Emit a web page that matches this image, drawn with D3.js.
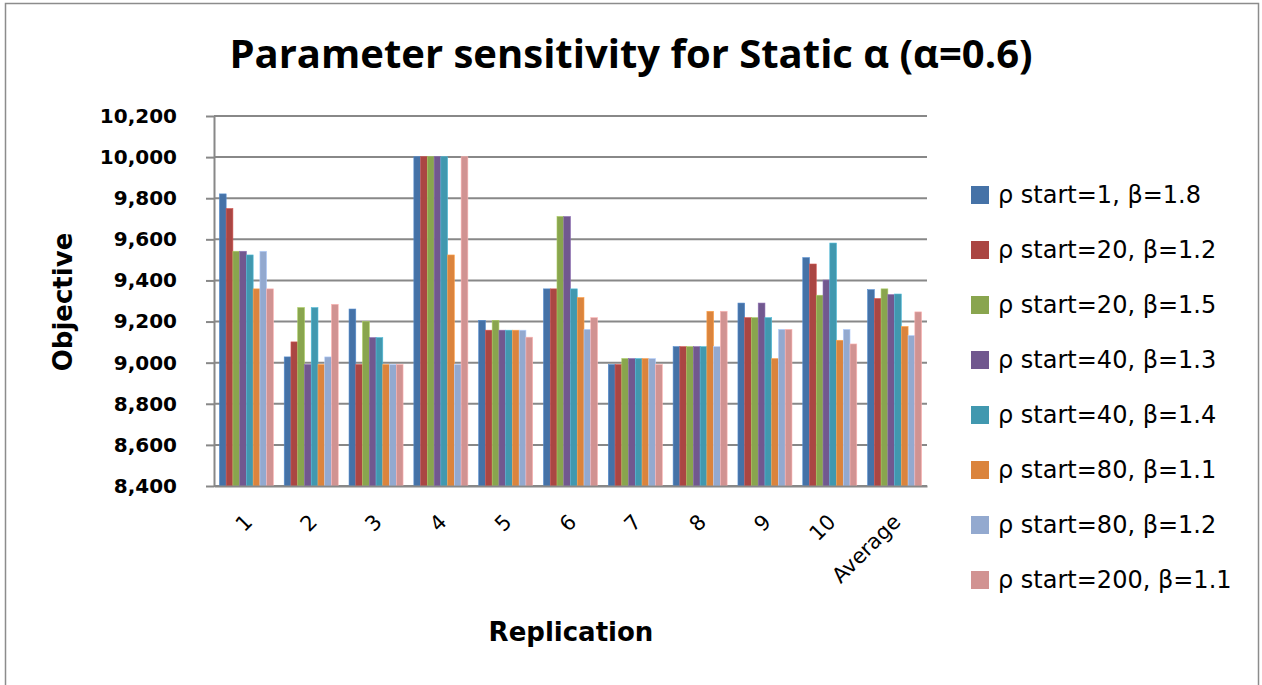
<!DOCTYPE html>
<html>
<head>
<meta charset="utf-8">
<script src="https://cdn.jsdelivr.net/npm/d3@7"></script>
<style>
  html, body { margin: 0; padding: 0; background: #fff; }
  svg { display: block; }
  text { fill: #000; }
</style>
</head>
<body>
<svg id="chart" width="1262" height="685"></svg>
<script>
// Replications (x categories)
const categories = ["1", "2", "3", "4", "5", "6", "7", "8", "9", "10", "Average"];

// Objective value per replication for each parameter setting
const seriesNames = [
  "ρ start=1, β=1.8",
  "ρ start=20, β=1.2",
  "ρ start=20, β=1.5",
  "ρ start=40, β=1.3",
  "ρ start=40, β=1.4",
  "ρ start=80, β=1.1",
  "ρ start=80, β=1.2",
  "ρ start=200, β=1.1"
];
const start1_b18   = [9821, 9028, 9261, 10002, 9206, 9359, 8991, 9078, 9290, 9511, 9355];
const start20_b12  = [9750, 9101, 8991, 10002, 9158, 9359, 8991, 9078, 9219, 9480, 9312];
const start20_b15  = [9542, 9268, 9200, 10002, 9206, 9711, 9020, 9078, 9219, 9328, 9359];
const start40_b13  = [9542, 8991, 9122, 10002, 9158, 9711, 9020, 9078, 9290, 9402, 9331];
const start40_b14  = [9524, 9268, 9122, 10002, 9158, 9359, 9020, 9078, 9219, 9582, 9334];
const start80_b11  = [9359, 8991, 8991, 9524, 9158, 9317, 9020, 9250, 9020, 9109, 9176];
const start80_b12  = [9542, 9028, 8991, 8991, 9158, 9162, 9020, 9078, 9162, 9162, 9132];
const start200_b11 = [9359, 9284, 8991, 10002, 9124, 9219, 8991, 9250, 9162, 9091, 9247];

const seriesValues = [start1_b18, start20_b12, start20_b15, start40_b13,
                      start40_b14, start80_b11, start80_b12, start200_b11];
const colors = ["#4572A7", "#AA4643", "#89A54E", "#71588F",
                "#4198AF", "#DB843D", "#93A9CF", "#D19392"];

const yTicks = [8400, 8600, 8800, 9000, 9200, 9400, 9600, 9800, 10000, 10200];

const FONT = "'DejaVu Sans', sans-serif";
const TITLE_FONT = "'Open Sans', sans-serif";

const svg = d3.select("#chart");
const W = 1262, H = 685;

// Outer chart frame
svg.append("rect").attr("x", 0).attr("y", 0).attr("width", W).attr("height", H).attr("fill", "#fff");
svg.append("rect")
  .attr("x", 5.5).attr("y", 3.5).attr("width", 1253).attr("height", 690)
  .attr("fill", "none").attr("stroke", "#8c8c8c").attr("stroke-width", 1.5);

const plot = { left: 214, right: 927, top: 116, bottom: 486 };

const x0 = d3.scaleBand()
  .domain(categories)
  .range([plot.left, plot.right])
  .paddingInner(1 / 6)
  .paddingOuter(1 / 12);

const x1 = d3.scaleBand()
  .domain(d3.range(seriesNames.length))
  .range([0, x0.bandwidth()])
  .padding(0);

const y = d3.scaleLinear()
  .domain([8400, 10200])
  .range([plot.bottom, plot.top]);

// Horizontal gridlines
svg.append("g")
  .selectAll("line")
  .data(yTicks)
  .join("line")
  .attr("x1", plot.left).attr("x2", plot.right)
  .attr("y1", d => y(d)).attr("y2", d => y(d))
  .attr("stroke", "#888").attr("stroke-width", 2);

// Bars
const groups = svg.append("g")
  .selectAll("g")
  .data(categories.map((c, i) => ({ c, i })))
  .join("g")
  .attr("transform", d => `translate(${x0(d.c)},0)`);

groups.selectAll("rect")
  .data(d => seriesValues.map((vals, s) => ({ s, v: vals[d.i] })))
  .join("rect")
  .attr("x", d => x1(d.s))
  .attr("y", d => y(d.v))
  .attr("width", x1.bandwidth())
  .attr("height", d => y(8400) - y(d.v))
  .attr("fill", d => colors[d.s])
  .attr("stroke", d => d3.color(colors[d.s]).brighter(0.6))
  .attr("stroke-width", 0.6);

// Y axis
const yAxis = d3.axisLeft(y)
  .tickValues(yTicks)
  .tickFormat(d3.format(","))
  .tickSizeInner(8)
  .tickSizeOuter(0)
  .tickPadding(29);

const yg = svg.append("g")
  .attr("transform", `translate(${plot.left},0)`)
  .call(yAxis);
yg.select(".domain").attr("stroke", "#888").attr("stroke-width", 2);
yg.selectAll(".tick line").attr("stroke", "#888").attr("stroke-width", 2);
yg.selectAll(".tick text")
  .style("font-family", FONT)
  .style("font-size", "20px").style("font-weight", "bold")
  .attr("fill", "#000");

// X axis
const xAxis = d3.axisBottom(x0).tickSize(0).tickPadding(0);
const xg = svg.append("g")
  .attr("transform", `translate(0,${plot.bottom})`)
  .call(xAxis);
xg.select(".domain").attr("stroke", "#888").attr("stroke-width", 2);
xg.selectAll(".tick text")
  .style("font-family", FONT)
  .style("font-size", "21px")
  .attr("fill", "#000")
  .attr("text-anchor", "end")
  .attr("dy", "0.35em")
  .attr("transform", "translate(2,32) rotate(-45)");

// Titles
svg.append("text")
  .attr("x", 631).attr("y", 68)
  .attr("text-anchor", "middle")
  .style("font-family", TITLE_FONT)
  .style("font-size", "40px").style("font-weight", "bold")
  .text("Parameter sensitivity for Static α (α=0.6)");

svg.append("text")
  .attr("x", 571).attr("y", 641)
  .attr("text-anchor", "middle")
  .style("font-family", FONT)
  .style("font-size", "26px").style("font-weight", "bold")
  .text("Replication");

svg.append("text")
  .attr("transform", "translate(72,302) rotate(-90)")
  .attr("text-anchor", "middle")
  .style("font-family", FONT)
  .style("font-size", "26px").style("font-weight", "bold")
  .text("Objective");

// Legend
const legend = svg.append("g")
  .selectAll("g")
  .data(seriesNames)
  .join("g")
  .attr("transform", (d, i) => `translate(971,${195 + i * 55})`);

legend.append("rect")
  .attr("x", 0).attr("y", -9)
  .attr("width", 18).attr("height", 18)
  .attr("fill", (d, i) => colors[i]);

legend.append("text")
  .attr("x", 27).attr("y", 0)
  .attr("dy", "0.35em")
  .style("font-family", FONT)
  .style("font-size", "24px")
  .text(d => d);
</script>
</body>
</html>
